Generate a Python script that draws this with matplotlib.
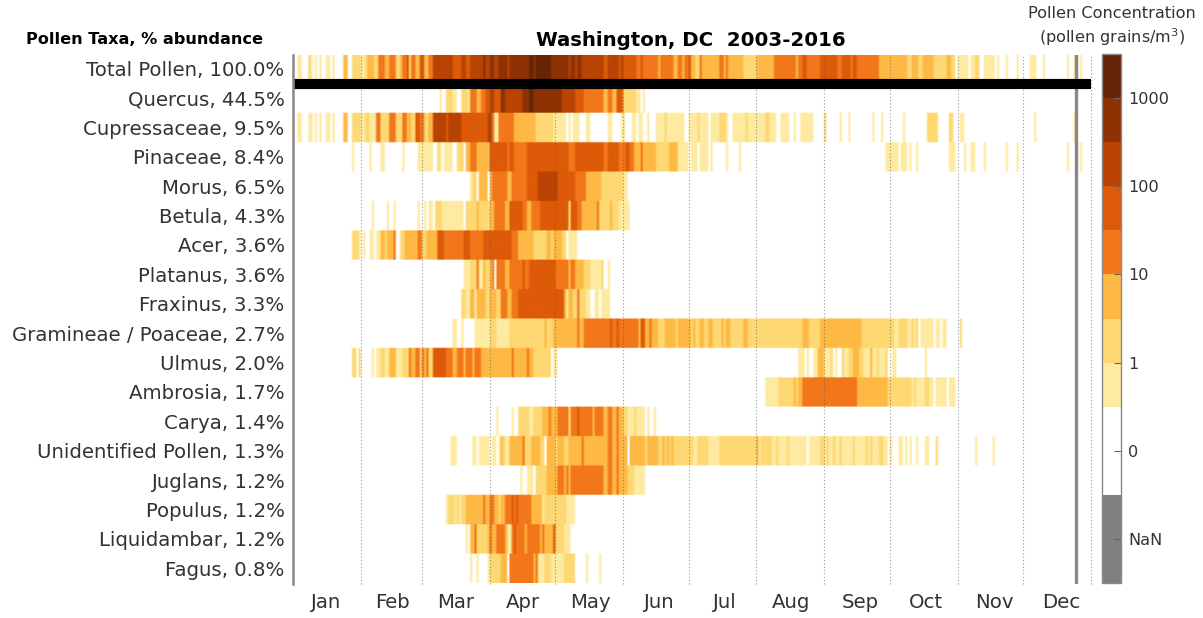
import numpy as np
import matplotlib
matplotlib.use("Agg")
import matplotlib.pyplot as plt
from matplotlib.colors import ListedColormap, BoundaryNorm
from matplotlib.cm import ScalarMappable

taxa = ["Total Pollen, 100.0%", "Quercus, 44.5%", "Cupressaceae, 9.5%", "Pinaceae, 8.4%", "Morus, 6.5%",
        "Betula, 4.3%", "Acer, 3.6%", "Platanus, 3.6%", "Fraxinus, 3.3%", "Gramineae / Poaceae, 2.7%",
        "Ulmus, 2.0%", "Ambrosia, 1.7%", "Carya, 1.4%", "Unidentified Pollen, 1.3%", "Juglans, 1.2%",
        "Populus, 1.2%", "Liquidambar, 1.2%", "Fagus, 0.8%"]
months = ["Jan", "Feb", "Mar", "Apr", "May", "Jun", "Jul", "Aug", "Sep", "Oct", "Nov", "Dec"]
month_starts = [31, 59, 90, 120, 151, 181, 212, 243, 273, 304, 334, 365]
month_label_days = [14.6, 45.7, 74.6, 105.3, 135.9, 167, 197, 228, 259.5, 289.7, 320.8, 351.4]
today_line = 358

# Each taxon: (first day of year, concentration class) runs; class 0 = none, 1..8 = colour bands
total_pollen = [(2,1),(4,0),(7,2),(8,1),(9,0),(10,1),(11,0),(12,1),(13,0),(15,1),(17,0),(18,1),(19,0),(23,3),(25,0),
    (27,2),(31,1),(33,2),(34,3),(37,2),(39,4),(42,3),(44,4),(47,2),(49,3),(50,4),(52,5),(53,2),(54,4),(56,3),(58,5),
    (60,3),(62,4),(64,6),(73,5),(77,6),(79,5),(81,6),(87,7),(88,6),(90,7),(92,6),(94,7),(98,6),(99,7),(108,8),(110,7),
    (111,8),(118,7),(126,6),(127,7),(129,6),(130,7),(132,6),(142,5),(144,6),(149,5),(150,6),(151,5),(157,4),(159,5),
    (160,4),(167,3),(168,4),(174,3),(176,4),(178,3),(179,4),(181,5),(182,3),(184,2),(186,4),(187,3),(195,4),(197,3),
    (198,4),(199,3),(206,2),(212,3),(220,4),(230,3),(231,4),(233,5),(235,4),(241,5),(249,4),(251,5),(255,4),(256,5),
    (258,4),(268,3),(281,2),(283,3),(286,2),(288,3),(293,2),(299,3),(301,2),(303,0),(304,1),(309,0),(310,1),(312,2),
    (314,0),(316,1),(321,0),(322,1),(323,0),(326,1),(327,0),(331,1),(332,0),(337,1),(340,0),(343,1),(344,0),(354,1),
    (355,0),(357,1),(359,0),(360,1),(361,0)]
quercus = [(67,1),(68,0),(70,2),(73,1),(75,0),(77,2),(80,1),(81,4),(84,3),(86,4),(88,5),(90,6),(92,5),(95,7),(97,6),
    (105,7),(108,8),(110,7),(123,6),(129,5),(133,4),(142,3),(144,4),(146,3),(148,5),(151,2),(157,1),(159,0),(160,1),(161,0)]
cupressaceae = [(2,1),(4,0),(7,1),(9,0),(10,1),(11,0),(12,1),(13,0),(15,1),(17,0),(18,1),(19,0),(23,3),(25,0),(27,2),
    (31,1),(33,2),(35,1),(38,4),(40,2),(44,4),(47,2),(50,4),(52,3),(54,2),(56,5),(58,4),(60,2),(62,3),(64,6),(70,5),
    (71,6),(73,6),(77,5),(89,6),(91,4),(92,1),(94,4),(101,3),(111,2),(119,1),(125,0),(126,1),(127,0),(128,1),(131,0),
    (134,1),(136,0),(144,1),(146,0),(150,1),(152,0),(155,1),(157,0),(158,1),(160,0),(162,1),(163,0),(166,1),(170,2),
    (171,1),(179,0),(181,1),(185,2),(186,1),(190,0),(191,1),(195,2),(198,1),(199,0),(201,1),(207,2),(208,1),(216,2),
    (218,1),(221,0),(223,1),(227,0),(229,1),(230,0),(232,1),(238,0),(243,2),(244,0),(250,1),(251,0),(254,1),(255,0),
    (265,1),(266,0),(269,1),(270,0),(279,1),(280,0),(290,2),(295,0),(300,2),(302,0),(305,1),(307,0),(339,1),(340,0),
    (357,1),(358,0)]
pinaceae = [(27,1),(28,0),(35,1),(36,0),(40,1),(42,0),(50,1),(51,0),(57,1),(64,0),(66,2),(67,1),(68,0),(69,1),(73,0),
    (75,2),(78,0),(79,3),(81,4),(84,3),(90,5),(98,4),(99,5),(101,4),(107,5),(126,4),(129,5),(142,4),(144,5),(149,4),
    (152,5),(154,4),(156,3),(159,4),(160,3),(166,2),(172,3),(176,1),(181,0),(182,1),(185,0),(186,1),(190,0),(191,1),
    (192,0),(198,1),(199,0),(204,1),(205,0),(271,1),(277,0),(278,1),(281,0),(282,1),(283,0),(285,1),(286,0),(300,1),
    (303,0),(307,1),(308,0),(310,1),(312,0),(316,1),(317,0),(326,1),(327,0),(331,1),(332,0),(354,1),(355,0),(360,1),(361,0)]
morus = [(81,1),(82,2),(84,0),(85,3),(89,0),(90,3),(91,4),(98,3),(100,4),(107,5),(112,6),(121,5),(129,4),(134,3),(141,2),(151,1),(153,0)]
betula = [(36,1),(37,0),(43,1),(44,0),(46,1),(47,0),(57,1),(58,0),(60,1),(61,0),(62,1),(64,0),(65,2),(68,1),(78,0),
    (79,2),(84,3),(85,2),(90,3),(92,4),(97,3),(99,5),(105,4),(107,3),(109,4),(113,5),(126,2),(127,5),(130,4),(132,3),
    (139,4),(140,2),(145,3),(146,2),(149,1),(154,0)]
acer = [(27,2),(30,1),(31,0),(32,1),(33,0),(35,1),(37,0),(38,1),(40,3),(42,2),(43,3),(46,4),(47,0),(49,2),(51,3),(57,4),
    (59,2),(61,3),(66,5),(69,4),(78,5),(81,4),(87,5),(100,4),(103,3),(110,2),(116,3),(118,2),(119,3),(123,2),(125,0),
    (126,1),(130,0)]
platanus = [(78,1),(81,2),(84,4),(85,1),(87,3),(88,2),(90,3),(91,4),(92,0),(93,4),(97,3),(99,4),(105,5),(106,4),(108,5),
    (120,4),(126,3),(127,4),(129,3),(133,2),(136,1),(141,2),(142,0),(144,1),(145,0)]
fraxinus = [(77,2),(79,1),(81,3),(83,1),(84,3),(88,2),(90,3),(93,2),(95,4),(98,3),(100,4),(103,5),(124,3),(125,1),(126,3),
    (128,2),(130,4),(131,2),(134,1),(136,0),(138,1),(140,0),(141,1),(143,0),(143,1),(145,0)]
gramineae = [(73,1),(75,0),(77,1),(78,0),(83,1),(90,2),(93,1),(99,2),(115,3),(116,2),(119,3),(130,4),(131,3),(133,4),
    (145,5),(146,4),(148,5),(149,4),(158,3),(159,5),(161,3),(163,4),(164,3),(167,2),(170,3),(175,2),(176,3),(182,2),
    (183,3),(184,2),(186,3),(188,2),(190,3),(192,2),(196,3),(197,2),(198,3),(200,2),(206,3),(208,2),(233,3),(236,2),
    (241,3),(260,2),(275,1),(277,2),(281,1),(283,2),(284,1),(285,2),(286,0),(287,1),(293,0),(294,1),(296,0),(297,1),
    (299,0),(305,2),(306,0)]
ulmus = [(27,2),(29,0),(30,2),(31,0),(36,1),(37,0),(38,1),(40,2),(42,1),(44,3),(47,1),(50,2),(53,4),(54,3),(56,4),(58,2),
    (59,4),(60,3),(61,4),(62,2),(64,5),(70,4),(73,3),(75,4),(78,3),(79,4),(82,3),(83,4),(86,3),(100,4),(101,3),(107,4),
    (108,3),(110,2),(118,0),(119,1),(121,0),(231,1),(234,0),(235,1),(236,0),(238,1),(240,3),(243,1),(246,2),(247,0),
    (248,1),(249,0),(251,2),(252,1),(254,2),(256,3),(259,2),(261,1),(264,3),(265,1),(267,2),(268,1),(271,2),(272,0),
    (274,1),(276,0),(289,1),(290,0)]
ambrosia = [(216,1),(222,2),(229,3),(230,2),(231,3),(233,4),(258,3),(272,2),(283,1),(284,2),(285,1),(289,2),(291,1),(293,0),
    (294,1),(299,0),(300,1),(303,0)]
carya = [(93,1),(94,0),(100,1),(101,0),(103,2),(108,1),(110,2),(114,3),(117,4),(118,3),(121,4),(126,2),(127,4),(130,5),(131,4),
    (137,3),(138,4),(142,3),(144,4),(146,3),(148,4),(149,3),(151,2),(153,1),(156,2),(157,1),(161,0),(162,1),(163,0),(165,1),(166,0)]
unidentified = [(72,1),(75,0),(82,1),(84,0),(85,1),(90,0),(91,1),(93,0),(94,1),(95,3),(96,2),(97,1),(99,3),(105,4),(106,2),
    (109,3),(113,2),(115,0),(116,3),(120,2),(121,3),(124,2),(126,3),(132,4),(133,3),(144,4),(146,3),(148,4),(149,3),(153,0),
    (154,3),(161,2),(162,3),(167,2),(169,3),(170,2),(171,3),(172,2),(173,3),(174,2),(183,1),(185,2),(190,1),(195,2),(212,3),
    (213,1),(214,2),(219,1),(221,2),(222,1),(226,2),(227,1),(235,0),(236,1),(241,2),(243,1),(244,2),(245,1),(247,2),(248,1),
    (250,2),(251,1),(256,2),(257,1),(262,2),(263,1),(264,2),(265,1),(268,2),(270,1),(272,0),(273,1),(274,0),(277,1),(279,0),
    (280,1),(281,0),(282,1),(283,0),(285,1),(286,0),(289,1),(291,0),(294,2),(295,0),(312,1),(313,0),(320,1),(321,0)]
juglans = [(104,1),(105,0),(107,1),(110,0),(111,2),(116,3),(121,4),(124,3),(125,4),(126,3),(127,4),(142,3),(144,4),(146,3),
    (148,4),(149,3),(153,2),(156,1),(161,0)]
populus = [(70,1),(71,2),(74,1),(75,2),(76,1),(77,2),(79,3),(87,4),(88,3),(90,4),(92,3),(94,2),(95,3),(97,4),(100,5),(101,4),
    (102,5),(103,4),(109,3),(114,1),(115,2),(125,1),(129,0)]
liquidambar = [(79,1),(80,0),(81,3),(83,4),(84,2),(89,3),(90,4),(91,3),(93,4),(97,3),(98,1),(100,4),(101,5),(102,4),(106,3),
    (107,4),(113,3),(114,4),(115,3),(119,5),(120,2),(124,1),(127,0)]
fagus = [(81,1),(82,0),(84,1),(85,0),(89,1),(90,2),(95,3),(98,0),(99,4),(110,3),(111,4),(112,1),(115,2),(118,1),(124,2),(129,0),
    (134,1),(135,0),(140,1),(141,0)]

all_rows = [total_pollen, quercus, cupressaceae, pinaceae, morus, betula, acer, platanus, fraxinus, gramineae,
            ulmus, ambrosia, carya, unidentified, juglans, populus, liquidambar, fagus]

band_colors = ["#808080", "#FFFFFF", "#FEEAA0", "#FDD873", "#FEB945", "#F2771A",
               "#DC5A08", "#B84302", "#8E3203", "#662506"]
band_edges = [0, 2, 4, 5, 6, 7, 8, 9, 10, 11, 12]
cb_ticks = [1, 3, 5, 7, 9, 11]
cb_labels = ["NaN", "0", "1", "10", "100", "1000"]
text_color = "#333333"

grid = np.zeros((len(all_rows), 365))
for i, runs in enumerate(all_rows):
    for (start, level) in runs:
        grid[i, start:] = level
cell = np.where(grid == 0, 3.0, grid + 3.5)
# rows are repeated so that the soft resampling only softens the day-to-day edges
cell_fine = np.repeat(cell, 20, axis=0)

W, H = 1203, 618
fig = plt.figure(figsize=(W / 100, H / 100), dpi=100)
ax = fig.add_axes([293 / W, 1 - 583.5 / H, 798 / W, 529 / H])
cmap = ListedColormap(band_colors)
norm = BoundaryNorm(band_edges, cmap.N)
ax.imshow(cell_fine, cmap=cmap, norm=norm, aspect="auto", interpolation="bilinear",
          interpolation_stage="rgba", extent=[0, 365, len(taxa), 0])
ax.set_xlim(0, 365)
ax.set_ylim(len(taxa), 0)

for d in month_starts:
    ax.axvline(d, color="#555555", lw=0.8, ls=(0, (1, 2)), alpha=0.6, clip_on=False)
ax.axvline(today_line, color="#888888", lw=2.4)
ax.axhline(1, color="black", lw=7.3, solid_capstyle="butt")

for s in ["top", "right", "bottom"]:
    ax.spines[s].set_visible(False)
ax.spines["left"].set_color("#888888")
ax.spines["left"].set_linewidth(1.8)

ax.set_xticks(month_label_days)
ax.set_xticklabels(months, fontsize=14.2, color=text_color)
ax.set_yticks(np.arange(len(taxa)) + 0.48)
ax.set_yticklabels(taxa, fontsize=14.2, color=text_color)
ax.tick_params(length=0)
ax.tick_params(axis="x", pad=7)
ax.tick_params(axis="y", pad=6)

fig.text(691 / W, 1 - 40 / H, "Washington, DC  2003-2016", ha="center", va="center",
         fontsize=14.2, fontweight="bold", color="black")
fig.text(144 / W, 1 - 40 / H, "Pollen Taxa, % abundance", ha="center", va="center",
         fontsize=11.6, fontweight="bold", color="black")
fig.text(1112 / W, 1 - 27 / H, "Pollen Concentration\n(pollen grains/m$^3$)", ha="center", va="center",
         fontsize=11.6, color=text_color, linespacing=1.35)

cax = fig.add_axes([1102 / W, 1 - 583 / H, 19 / W, 529 / H])
cb = fig.colorbar(ScalarMappable(norm=norm, cmap=cmap), cax=cax, spacing="proportional",
                  boundaries=band_edges, ticks=cb_ticks, drawedges=False)
cb.ax.set_yticklabels(cb_labels, fontsize=11.6, color=text_color)
cb.ax.minorticks_off()
cb.ax.tick_params(direction="in", length=5, width=0.8, color="#666666", pad=5)
cb.outline.set_edgecolor("#888888")
cb.outline.set_linewidth(1.0)

fig.savefig("out.png", dpi=100, facecolor="white")
